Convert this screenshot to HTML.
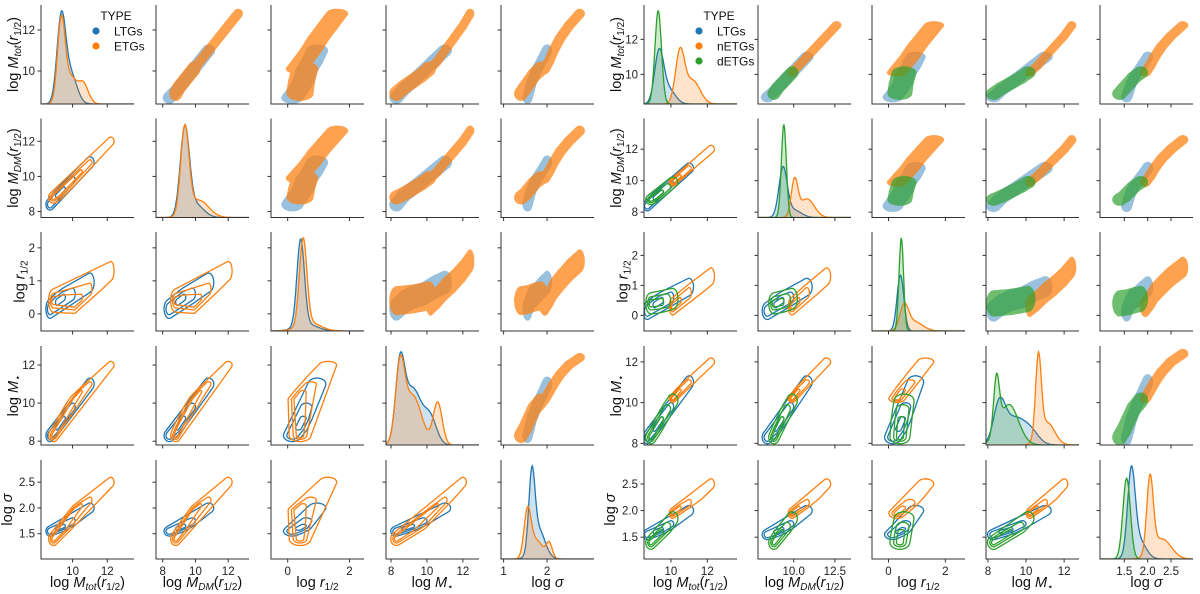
<!DOCTYPE html>
<html><head><meta charset="utf-8"><style>
html,body{margin:0;padding:0;background:#fff;}
svg{display:block;font-family:"Liberation Sans","DejaVu Sans",sans-serif;}
</style></head><body>
<svg id="fig" xmlns="http://www.w3.org/2000/svg" width="1200" height="594" viewBox="0 0 1200 594"></svg>
<script>
// ---------- data: anchor tracks per group (means of Mtot, MDM, r, M*, sigma) ----------
const LTG_MTOT  = [8.7, 9.1, 9.5, 10.0, 10.5, 11.0];
const LTG_MDM   = [8.4, 8.9, 9.3, 9.8, 10.3, 10.8];
const LTG_R     = [0.15, 0.35, 0.5, 0.6, 0.8, 0.95];
const LTG_MSTAR = [8.3, 8.7, 9.2, 9.8, 10.4, 11.0];
const LTG_SIG   = [1.55, 1.6, 1.65, 1.75, 1.88, 2.0];
const LTG_SD    = [0.15, 0.2, 0.18, 0.2, 0.06];
const LTG_W     = [0.7, 1, 0.8, 0.5, 0.3, 0.15];

const DETG_MTOT  = [8.9, 9.2, 9.5, 9.8, 10.1];
const DETG_MDM   = [8.8, 9.0, 9.3, 9.6, 9.9];
const DETG_R     = [0.4, 0.42, 0.45, 0.5, 0.55];
const DETG_MSTAR = [8.3, 8.7, 9.2, 9.7, 10.1];
const DETG_SIG   = [1.4, 1.5, 1.6, 1.7, 1.85];
const DETG_SD    = [0.18, 0.2, 0.22, 0.2, 0.08];
const DETG_W     = [0.8, 1, 0.9, 0.6, 0.35];

const NETG_MTOT  = [10.1, 10.5, 11.0, 11.6, 12.2, 12.8];
const NETG_MDM   = [9.9, 10.3, 10.8, 11.4, 12.0, 12.6];
const NETG_R     = [0.3, 0.5, 0.75, 1.0, 1.3, 1.6];
const NETG_MSTAR = [10.2, 10.6, 11.0, 11.5, 12.0, 12.4];
const NETG_SIG   = [1.95, 2.05, 2.15, 2.3, 2.5, 2.75];
const NETG_SD    = [0.12, 0.15, 0.18, 0.12, 0.06];
const NETG_W     = [0.8, 1, 0.6, 0.35, 0.2, 0.1];

// KDE components [mu, sd, weight] per variable
const KDE_LEFT_LTG = [[[9.35,0.25,1.0],[9.9,0.35,0.35]],[[9.35,0.28,1],[10.0,0.5,0.15]],[[0.42,0.12,1],[0.6,0.35,0.08]],[[8.5,0.25,1],[9.2,0.5,0.8],[10.2,0.35,0.35]],[[1.65,0.07,1],[1.8,0.15,0.4]]];
const KDE_LEFT_ETG = [[[9.35,0.22,1.0],[10.6,0.3,0.25],[9.9,0.3,0.3]],[[9.35,0.25,1],[10.2,0.6,0.2]],[[0.5,0.12,1],[0.7,0.35,0.1]],[[8.5,0.25,1],[9.2,0.5,0.7],[10.6,0.25,0.6]],[[1.55,0.08,0.6],[2.05,0.07,0.2],[1.75,0.15,0.25]]];
const KDE_RIGHT_LTG = [[[9.35,0.25,0.55],[9.9,0.35,0.15]],[[9.35,0.25,0.52],[10.0,0.45,0.08]],[[0.42,0.12,0.6]],[[8.6,0.3,0.4],[9.4,0.6,0.3],[10.3,0.4,0.1]],[[1.65,0.08,0.8],[1.8,0.15,0.2]]];
const KDE_RIGHT_NETG = [[[10.5,0.25,0.55],[11.2,0.4,0.25]],[[10.05,0.2,0.38],[10.8,0.45,0.2]],[[0.55,0.15,0.25],[0.9,0.3,0.1]],[[10.65,0.15,0.9],[11.1,0.4,0.25]],[[2.05,0.07,0.75],[2.3,0.2,0.2]]];
const KDE_RIGHT_DETG = [[[9.3,0.18,1]],[[9.4,0.15,1]],[[0.45,0.08,1]],[[8.45,0.15,0.6],[9.1,0.5,0.45]],[[1.55,0.08,0.8]]];

// axis ranges & ticks
const LEFT_XR = [[8.18,13.54],[7.59,13.27],[-0.54,2.47],[7.72,12.9],[0.94,3.08]];
const LEFT_YR = [[8.39,13.22],[7.66,13.3],[-0.52,2.48],[7.8,13.0],[1.01,2.93]];
const RIGHT_XR = [[8.52,13.63],[7.83,13.48],[-0.58,2.69],[7.9,12.78],[0.98,2.97]];
const RIGHT_YR = [[8.31,13.96],[7.66,13.95],[-0.52,2.78],[7.92,12.78],[1.09,2.95]];
const LEFT_XT = [[10,12],[8,10,12],[0,2],[8,10,12],[1,2]];
const LEFT_XTL = [["10","12"],["8","10","12"],["0","2"],["8","10","12"],["1","2"]];
const RIGHT_XT = [[10,12],[10,12.5],[0,2],[8,10,12],[1.5,2.0,2.5]];
const RIGHT_XTL = [["10","12"],["10.0","12.5"],["0","2"],["8","10","12"],["1.5","2.0","2.5"]];
const YT = [[10,12],[8,10,12],[0,1,2],[8,10,12],[1.5,2.0,2.5]];
const YTL = [["10","12"],["8","10","12"],["0","1","2"],["8","10","12"],["1.5","2.0","2.5"]];

// ---------- layout ----------
const NS = "http://www.w3.org/2000/svg";
const svg = document.getElementById('fig');
const W = 93, H = 99;
const ROWY = [5, 118.5, 232, 346, 460];
const VARNAMES = ['mtot','mdm','r','mstar','sigma'];
const LABELS = [
 'log <tspan font-style="italic">M</tspan><tspan font-size="10" dy="3" font-style="italic">tot</tspan><tspan dy="-3">(</tspan><tspan font-style="italic">r</tspan><tspan font-size="10" dy="3">1/2</tspan><tspan dy="-3">)</tspan>',
 'log <tspan font-style="italic">M</tspan><tspan font-size="10" dy="3" font-style="italic">DM</tspan><tspan dy="-3">(</tspan><tspan font-style="italic">r</tspan><tspan font-size="10" dy="3">1/2</tspan><tspan dy="-3">)</tspan>',
 'log <tspan font-style="italic">r</tspan><tspan font-size="10" dy="3">1/2</tspan>',
 'log <tspan font-style="italic">M</tspan><tspan font-size="10" dy="3">⋆</tspan>',
 'log <tspan font-style="italic">σ</tspan>'
];

function mk(tag, attrs, parent){
  const e = document.createElementNS(NS, tag);
  for (const k in attrs) e.setAttribute(k, attrs[k]);
  (parent||svg).appendChild(e);
  return e;
}
function group(means, sd, w){
  const pts = [];
  for (let i=0;i<means[0].length;i++){
    pts.push({m:[means[0][i],means[1][i],means[2][i],means[3][i],means[4][i]], sd:sd, w:w[i]});
  }
  return pts;
}
const ltg = group([LTG_MTOT,LTG_MDM,LTG_R,LTG_MSTAR,LTG_SIG], LTG_SD, LTG_W);
const detg = group([DETG_MTOT,DETG_MDM,DETG_R,DETG_MSTAR,DETG_SIG], DETG_SD, DETG_W);
const netg = group([NETG_MTOT,NETG_MDM,NETG_R,NETG_MSTAR,NETG_SIG], NETG_SD, NETG_W);
const etg = detg.concat(netg);

function hull(p){
  p = p.slice().sort((a,b)=>a[0]-b[0]||a[1]-b[1]);
  const cr=(o,a,b)=>(a[0]-o[0])*(b[1]-o[1])-(a[1]-o[1])*(b[0]-o[0]);
  const lo=[],up=[];
  for(const q of p){while(lo.length>=2&&cr(lo[lo.length-2],lo[lo.length-1],q)<=0)lo.pop();lo.push(q);}
  for(let i=p.length-1;i>=0;i--){const q=p[i];while(up.length>=2&&cr(up[up.length-2],up[up.length-1],q)<=0)up.pop();up.push(q);}
  up.pop();lo.pop();return lo.concat(up);
}
function ptsStr(p){return p.map(q=>q[0].toFixed(1)+','+q[1].toFixed(1)).join(' ');}

function drawGrid(cfg){
  const g = mk('g',{});
  
  
  const xs=(c,v)=>cfg.colX[c]+(v-cfg.xr[c][0])/(cfg.xr[c][1]-cfg.xr[c][0])*W;
  const ys=(r,v)=>ROWY[r]+H-(v-cfg.yr[r][0])/(cfg.yr[r][1]-cfg.yr[r][0])*H;
  const pxX=c=>W/(cfg.xr[c][1]-cfg.xr[c][0]);
  const pxY=r=>H/(cfg.yr[r][1]-cfg.yr[r][0]);
  function ell(a,r,c,k){
    const cx=xs(c,a.m[c]),cy=ys(r,a.m[r]),rx=k*a.sd[c]*pxX(c),ry=k*a.sd[r]*pxY(r);
    const out=[];for(let t=0;t<24;t++){const th=t/24*Math.PI*2;out.push([cx+rx*Math.cos(th),cy+ry*Math.sin(th)]);}
    return out;
  }
  for(let r=0;r<5;r++){
    for(let c=0;c<5;c++){
      const x0=cfg.colX[c], y0=ROWY[r];
      const pg = mk('g',{},g);
      
      
      const cid = cfg.name+'clip'+r+'_'+c;
      const cp = mk('clipPath',{id:cid},pg);
      mk('rect',{x:x0,y:y0,width:W,height:H},cp);
      const inner = mk('g',{'clip-path':'url(#'+cid+')'},pg);
      if(r===c){
        const N=140, curves=[]; let mx=0;
        cfg.kdes.forEach(kd=>{const comps=kd[c];const arr=[];
          for(let i=0;i<=N;i++){const v=cfg.xr[c][0]+(cfg.xr[c][1]-cfg.xr[c][0])*i/N;let d=0;
            comps.forEach(cm=>{d+=cm[2]*Math.exp(-0.5*((v-cm[0])/cm[1])**2);});arr.push([v,d]);if(d>mx)mx=d;}
          curves.push(arr);});
        curves.forEach((arr,gi)=>{
          const col=cfg.colors[gi];
          const p=arr.map(q=>[xs(c,q[0]), y0+H-q[1]/mx*H*0.94]);
          const fill=mk('polygon',{points:ptsStr([[p[0][0],y0+H]].concat(p,[[p[p.length-1][0],y0+H]])),fill:col,'fill-opacity':0.22,stroke:'none'},inner);
          
          
          const ln=mk('polyline',{points:ptsStr(p),fill:'none',stroke:col,'stroke-width':1.3},inner);
          
          
        });
      } else if(r<c){
        cfg.groups.forEach((grp,gi)=>{
          const sg=mk('g',{opacity:cfg.scatterOp[gi],fill:cfg.colors[gi]},inner);
          
          
          for(let i=0;i<grp.length-1;i++){
            const h=hull(ell(grp[i],r,c,2).concat(ell(grp[i+1],r,c,2)));
            const pl=mk('polygon',{points:ptsStr(h)},sg);
            
            
          }
        });
      } else {
        const ks=[1.6,1.0,0.55], mw=[0.15,0.45,0.75];
        cfg.groups.forEach((grp,gi)=>{
          for(let L=0;L<3;L++){
            let pts=[];grp.forEach(a=>{if(a.w>=mw[L])pts=pts.concat(ell(a,r,c,ks[L]));});
            if(pts.length<3)continue;
            const pl=mk('polygon',{points:ptsStr(hull(pts)),fill:'none',stroke:cfg.colors[gi],'stroke-width':1.3,'stroke-linejoin':'round'},inner);
            
            
          }
        });
      }
      const sp=mk('path',{d:'M'+x0+','+y0+' V'+(y0+H)+' H'+(x0+W),fill:'none',stroke:'#333','stroke-width':1},pg);
      
      
      YT[r].forEach((v,i)=>{
        const y=ys(r,v);
        const t=mk('line',{x1:x0-3.5,x2:x0,y1:y,y2:y,stroke:'#333','stroke-width':1},pg);
        
        
        if(c===0){
          const tl=mk('text',{x:x0-6,y:y+4,'text-anchor':'end','font-size':11.5,fill:'#222'},pg);
          tl.textContent=YTL[r][i];
          
          
        }
      });
      cfg.xt[c].forEach((v,i)=>{
        const x=xs(c,v);
        const t=mk('line',{x1:x,x2:x,y1:y0+H,y2:y0+H+3.5,stroke:'#333','stroke-width':1},pg);
        
        
        if(r===4){
          const tl=mk('text',{x:x,y:y0+H+16,'text-anchor':'middle','font-size':11.5,fill:'#222'},pg);
          tl.textContent=cfg.xtl[c][i];
          
          
        }
      });
    }
    const maxc=Math.max(...YTL[r].map(s=>s.length));
    const bx=cfg.colX[0]-maxc*6.4-10, cy=ROWY[r]+H/2;
    const yl=mk('text',{x:bx,y:cy,transform:'rotate(-90 '+bx+' '+cy+')','text-anchor':'middle','font-size':14.5,fill:'#111'},g);
    yl.innerHTML=LABELS[r];
    
    
  }
  for(let c=0;c<5;c++){
    const xl=mk('text',{x:cfg.colX[c]+W/2,y:587,'text-anchor':'middle','font-size':14.5,fill:'#111'},g);
    xl.innerHTML=LABELS[c];
    
    
  }
  const lg=mk('g',{},g);
  
  
  const tt=mk('text',{x:cfg.legX+20,y:20,'text-anchor':'middle','font-size':12,fill:'#111'},lg);
  tt.textContent='TYPE';
  
  
  cfg.legendLabels.forEach((lab,i)=>{
    const y=31+i*15;
    const d=mk('circle',{cx:cfg.legX,cy:y,r:3.6,fill:cfg.colors[i]},lg);
    
    
    const tx=mk('text',{x:cfg.legX+18,y:y+4.5,'font-size':12,fill:'#111'},lg);
    tx.textContent=lab;
    
    
  });
}

drawGrid({name:'left-pairplot', colX:[41,156,271,386,501], xr:LEFT_XR, yr:LEFT_YR, xt:LEFT_XT, xtl:LEFT_XTL,
  groups:[ltg,etg], kdes:[KDE_LEFT_LTG,KDE_LEFT_ETG], colors:['#1f77b4','#ff7f0e'], scatterOp:[0.45,0.72],
  groupNames:['ltg','etg'], legendLabels:['LTGs','ETGs'], legX:96});
drawGrid({name:'right-pairplot', colX:[644,758,872,986,1100], xr:RIGHT_XR, yr:RIGHT_YR, xt:RIGHT_XT, xtl:RIGHT_XTL,
  groups:[ltg,netg,detg], kdes:[KDE_RIGHT_LTG,KDE_RIGHT_NETG,KDE_RIGHT_DETG], colors:['#1f77b4','#ff7f0e','#2ca02c'], scatterOp:[0.45,0.72,0.68],
  groupNames:['ltg','netg','detg'], legendLabels:['LTGs','nETGs','dETGs'], legX:699});
</script>
</body></html>
